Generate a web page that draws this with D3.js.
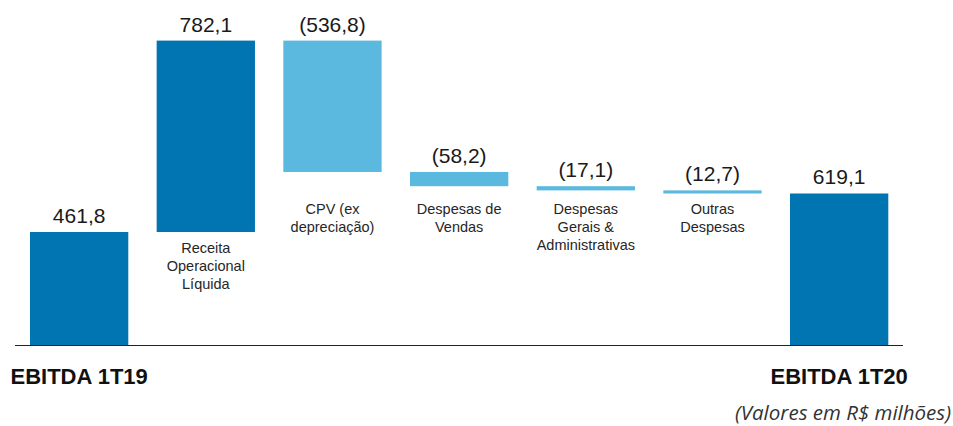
<!DOCTYPE html>
<html>
<head>
<meta charset="utf-8">
<script src="https://cdn.jsdelivr.net/npm/d3@7"></script>
<style>
  body { margin: 0; background: #fff; }
  svg text { font-family: "Liberation Sans", Arial, sans-serif; fill: #1a1a1a; }
</style>
</head>
<body>
<div id="chart"></div>
<script>
// waterfall EBITDA 1T19 -> 1T20 (R$ milhões)
const categories = [
  ["EBITDA 1T19"],
  ["Receita", "Operacional", "Líquida"],
  ["CPV (ex", "depreciação)"],
  ["Despesas de", "Vendas"],
  ["Despesas", "Gerais &", "Administrativas"],
  ["Outras", "Despesas"],
  ["EBITDA 1T20"]
];
const values = [461.8, 782.1, -536.8, -58.2, -17.1, -12.7, 619.1];
const kinds = ["total", "delta", "delta", "delta", "delta", "delta", "total"];
const valueLabels = ["461,8", "782,1", "(536,8)", "(58,2)", "(17,1)", "(12,7)", "619,1"];
const note = "(Valores em R$ milhões)";

const width = 953, height = 426;
const svg = d3.select("#chart").append("svg").attr("width", width).attr("height", height);

// running totals
let run = 0;
const bars = values.map((v, i) => {
  let lo, hi;
  if (kinds[i] === "total") { lo = 0; hi = v; run = v; }
  else { const start = run; run = run + v; lo = Math.min(start, run); hi = Math.max(start, run); }
  return { i, lo, hi, v, kind: kinds[i], label: valueLabels[i], cat: categories[i] };
});

const x = d3.scaleBand().domain(d3.range(values.length)).range([30, 888.3]).paddingInner(0.224).paddingOuter(0);
const y = d3.scaleLinear().domain([0, 782.1 + 461.8]).range([345, 40.6]);

const dark = "#0174B2", light = "#5BB8DE";

svg.selectAll("rect.bar").data(bars).join("rect")
  .attr("class", "bar")
  .attr("x", d => x(d.i))
  .attr("width", x.bandwidth())
  .attr("y", d => y(d.hi))
  .attr("height", d => Math.max(3, y(d.lo) - y(d.hi)))
  .attr("fill", d => (d.kind === "total" || d.v > 0) ? dark : light);

// baseline
svg.append("line")
  .attr("x1", 15).attr("x2", 903)
  .attr("y1", y(0) + 0.5).attr("y2", y(0) + 0.5)
  .attr("stroke", "#222").attr("stroke-width", 1.2);

// value labels
svg.selectAll("text.val").data(bars).join("text")
  .attr("class", "val")
  .attr("x", d => x(d.i) + x.bandwidth() / 2)
  .attr("y", d => y(d.hi) - 9)
  .attr("text-anchor", "middle")
  .style("font-size", "21px")
  .text(d => d.label);

// category labels for the deltas
const deltas = bars.filter(d => d.kind === "delta");
const catG = svg.selectAll("text.cat").data(deltas).join("text")
  .attr("class", "cat")
  .attr("text-anchor", "middle")
  .style("font-size", "14.5px")
  .style("fill", "#262626")
  .attr("transform", d => `translate(${x(d.i) + x.bandwidth() / 2},${Math.max(y(d.lo) + 21, 214)})`);
catG.selectAll("tspan").data(d => d.cat).join("tspan")
  .attr("x", 0)
  .attr("dy", (d, j) => j === 0 ? 0 : 18)
  .text(d => d);

// totals under the axis
svg.selectAll("text.tot").data(bars.filter(d => d.kind === "total")).join("text")
  .attr("class", "tot")
  .attr("x", d => x(d.i) + x.bandwidth() / 2)
  .attr("y", 384)
  .attr("text-anchor", "middle")
  .style("font-size", "22px")
  .style("font-weight", "bold")
  .style("fill", "#111")
  .text(d => d.cat[0]);

svg.append("text")
  .attr("x", 951).attr("y", 420)
  .attr("text-anchor", "end")
  .style("font-family", "'Open Sans', sans-serif")
  .style("font-style", "italic")
  .style("font-size", "20.5px")
  .style("fill", "#333")
  .text(note);
</script>
</body>
</html>
